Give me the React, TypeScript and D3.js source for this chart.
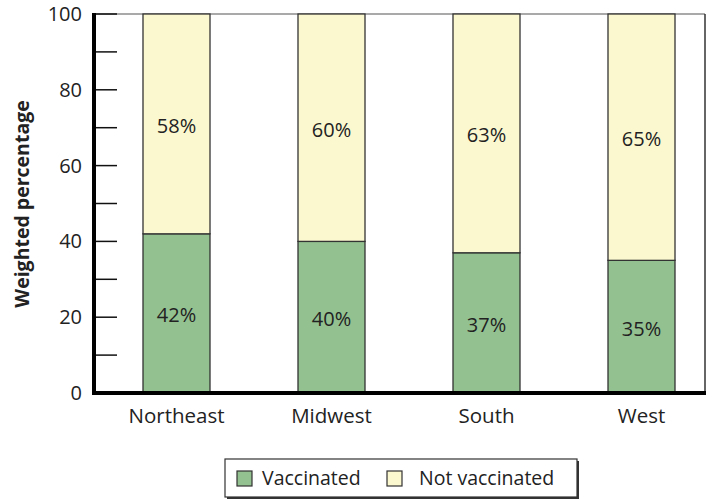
import * as d3 from 'd3';
import React from 'react';

const regions = ['Northeast', 'Midwest', 'South', 'West'];
const vaccinated = [42, 40, 37, 35];
const notVaccinated = [58, 60, 63, 65];
const yTicks = [0, 20, 40, 60, 80, 100];
const minorTicks = [10, 30, 50, 70, 90];

const W = 714;
const H = 499;
const left = 94;
const right = 705;
const top = 14;
const bottom = 393;
const font = "'Open Sans', 'Noto Sans', sans-serif";

const green = '#93c190';
const yellow = '#fbf8cf';

export default function App() {
  const x = d3.scalePoint<string>().domain(regions).range([176.5, 641.5]);
  const y = d3.scaleLinear().domain([0, 100]).range([bottom, top]);
  const barW = 67;

  const stacked = regions.map((r, i) => ({
    region: r,
    segs: [
      { y0: 0, y1: vaccinated[i], fill: green, label: vaccinated[i] + '%' },
      { y0: vaccinated[i], y1: vaccinated[i] + notVaccinated[i], fill: yellow, label: notVaccinated[i] + '%' },
    ],
  }));

  return (
    <svg width={W} height={H} style={{ position: 'absolute', left: 0, top: 0 }}>
      <rect x={0} y={0} width={W} height={H} fill="#fff" />
      {/* frame */}
      <line x1={left} x2={right} y1={top} y2={top} stroke="#555" strokeWidth={1.2} />
      <line x1={right} x2={right} y1={top} y2={bottom} stroke="#333" strokeWidth={1.5} />

      {stacked.map((d) => (
        <g key={d.region}>
          {d.segs.map((s, j) => (
            <g key={j}>
              <rect
                x={x(d.region)! - barW / 2}
                y={y(s.y1)}
                width={barW}
                height={y(s.y0) - y(s.y1)}
                fill={s.fill}
                stroke="#333"
                strokeWidth={1.3}
              />
              <text
                x={x(d.region)!}
                y={(y(s.y0) + y(s.y1)) / 2 + 2}
                dy="0.35em"
                textAnchor="middle"
                fontFamily={font}
                fontSize={20}
                fill="#222"
              >
                {s.label}
              </text>
            </g>
          ))}
          <text
            x={x(d.region)!}
            y={423}
            textAnchor="middle"
            fontFamily={font}
            fontSize={20.5}
            fill="#222"
          >
            {d.region}
          </text>
        </g>
      ))}

      {/* y axis */}
      {yTicks.map((t) => (
        <g key={t}>
          <line x1={left} x2={117} y1={y(t)} y2={y(t)} stroke="#111" strokeWidth={1.5} />
          <text
            x={82}
            y={y(t)}
            dy="0.35em"
            textAnchor="end"
            fontFamily={font}
            fontSize={20}
            fill="#222"
          >
            {t}
          </text>
        </g>
      ))}
      {minorTicks.map((t) => (
        <line key={t} x1={left} x2={117} y1={y(t)} y2={y(t)} stroke="#111" strokeWidth={1.5} />
      ))}
      <line x1={left} x2={left} y1={top - 1} y2={bottom + 2} stroke="#000" strokeWidth={4} />
      <line x1={left - 2} x2={right + 1} y1={bottom} y2={bottom} stroke="#000" strokeWidth={4} />

      <text
        transform={`translate(29,${204}) rotate(-90)`}
        textAnchor="middle"
        fontFamily={font}
        fontSize={19.5}
        fontWeight="bold"
        fill="#222"
      >
        Weighted percentage
      </text>

      {/* legend */}
      <rect x={227} y={461} width={352} height={38} fill="#333" />
      <rect x={225} y={459} width={352} height={38} fill="#fff" stroke="#333" strokeWidth={1.2} />
      <rect x={237} y={471} width={15} height={15} fill={green} stroke="#333" strokeWidth={1.2} />
      <text x={262} y={485} fontFamily={font} fontSize={19.5} fill="#222">
        Vaccinated
      </text>
      <rect x={387} y={471} width={15} height={15} fill={yellow} stroke="#333" strokeWidth={1.2} />
      <text x={419} y={485} fontFamily={font} fontSize={19.5} fill="#222">
        Not vaccinated
      </text>
    </svg>
  );
}
